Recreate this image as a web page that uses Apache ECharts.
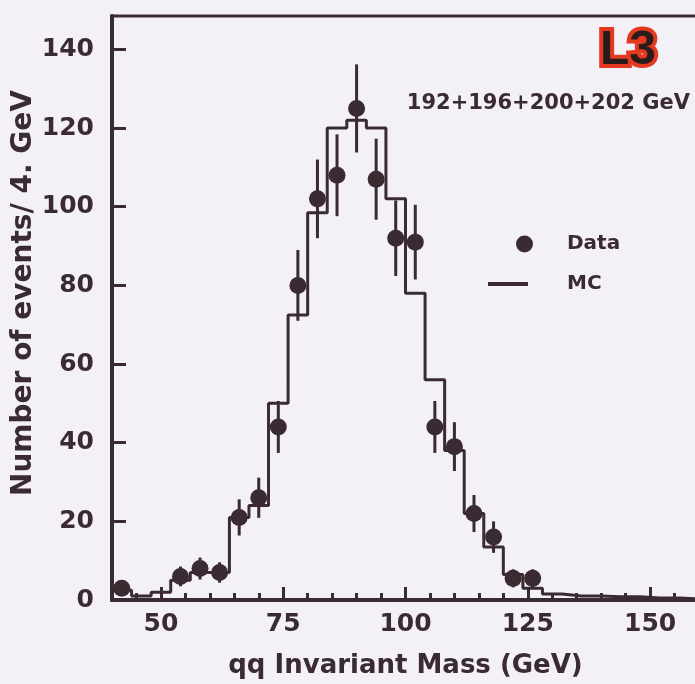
<!DOCTYPE html>
<html>
<head>
<meta charset="utf-8">
<script src="https://cdn.jsdelivr.net/npm/echarts@6/dist/echarts.min.js"></script>
<style>
html,body{margin:0;padding:0;background:#f3f0f8;}
#chart{width:695px;height:684px;}
</style>
</head>
<body>
<div id="chart"></div>
<script>
// Data points (bin centres, GeV), counts and error bars
const dataX = [42, 46, 50, 54, 58, 62, 66, 70, 74, 78, 82, 86, 90, 94, 98, 102, 106, 110, 114, 118, 122, 126];
const dataY = [3, null, null, 6, 8, 7, 21, 26, 44, 80, 102, 108, 125, 107, 92, 91, 44, 39, 22, 16, 5.5, 5.5];
const dataErr = [1.7, null, null, 2.5, 2.8, 2.6, 4.6, 5.1, 6.6, 9, 10, 10.4, 11.2, 10.3, 9.6, 9.5, 6.6, 6.2, 4.7, 4, 2.3, 2.3];

// MC histogram: left bin edges and contents
const mcEdges = [40, 44, 48, 52, 56, 60, 64, 68, 72, 76, 80, 84, 88, 92, 96, 100, 104, 108, 112, 116, 120, 124, 128, 132, 136, 140, 144, 148, 152, 156, 160];
const mcY = [2.5, 1, 2, 5, 7, 7, 21, 24, 50, 72.5, 98.5, 120, 122, 120, 102, 78, 56, 38, 22, 13.5, 6.5, 3, 1.5, 1, 1, 0.8, 0.8, 0.5, 0.5, 0.3];

// Tick labels
const xMajorTicks = [50, 75, 100, 125, 150];
const xMinorTicks = [45, 55, 60, 65, 70, 80, 85, 90, 95, 105, 110, 115, 120, 130, 135, 140, 145, 155];
const yTicks = [0, 20, 40, 60, 80, 100, 120, 140];

const ink = '#3a2a32';
const font = 'DejaVu Sans';

const scatterData = [];
const errData = [];
dataX.forEach((x, i) => {
  if (dataY[i] !== null) {
    scatterData.push([x, dataY[i]]);
    errData.push([x, dataY[i], dataErr[i]]);
  }
});
const mcData = mcEdges.map((e, i) => [e, mcY[Math.min(i, mcY.length - 1)]]);

const chart = echarts.init(document.getElementById('chart'));
chart.setOption({
  backgroundColor: '#f3f0f8',
  animation: false,
  title: [
    {
      text: 'L3', right: 26, top: 22,
      textStyle: { fontFamily: 'Liberation Sans', fontWeight: 'bold', fontSize: 48, color: '#2a1c1c',
        textBorderColor: '#e2391f', textBorderWidth: 8 }
    },
    {
      text: '192+196+200+202 GeV', right: 0, top: 88,
      textStyle: { fontFamily: font, fontWeight: 'bold', fontSize: 21, color: ink }
    }
  ],
  legend: [
    {
      data: [{ name: 'Data', icon: 'circle' }], left: 516, top: 234, padding: 0, orient: 'vertical',
      itemWidth: 17, itemHeight: 17,
      textStyle: { fontFamily: font, fontWeight: 'bold', fontSize: 20, color: ink, padding: [0, 0, 0, 29] }
    },
    {
      data: [{ name: 'MC', icon: 'rect' }], left: 488, top: 274, padding: 0, orient: 'vertical',
      itemWidth: 40, itemHeight: 4,
      textStyle: { fontFamily: font, fontWeight: 'bold', fontSize: 20, color: ink, padding: [0, 0, 0, 34] }
    }
  ],
  grid: {
    left: 112, top: 16, width: 587, height: 584,
    outerBoundsMode: 'none', containLabel: false,
    show: true, borderColor: ink, borderWidth: 3, backgroundColor: 'transparent'
  },
  xAxis: [
    {
      type: 'value', min: 40, max: 160, position: 'bottom',
      axisLine: { lineStyle: { color: ink, width: 4 } },
      axisTick: { inside: true, length: 7, lineStyle: { color: ink, width: 3 }, customValues: xMinorTicks },
      axisLabel: { customValues: xMajorTicks, margin: 12, fontFamily: font, fontWeight: 'bold', fontSize: 25, color: ink },
      splitLine: { show: false },
      name: 'qq Invariant Mass (GeV)', nameLocation: 'middle', nameGap: 53, nameMoveOverlap: false,
      nameTextStyle: { fontFamily: font, fontWeight: 'bold', fontSize: 26, color: ink }
    },
    {
      type: 'value', min: 40, max: 160, position: 'bottom', gridIndex: 0,
      axisLine: { show: false },
      axisTick: { inside: true, length: 13, lineStyle: { color: ink, width: 3 }, customValues: xMajorTicks },
      axisLabel: { show: false },
      splitLine: { show: false }
    }
  ],
  yAxis: {
    type: 'value', min: 0, max: 148.5,
    axisLine: { show: true, lineStyle: { color: ink, width: 4 } },
    axisTick: { show: true, inside: true, length: 14, lineStyle: { color: ink, width: 3 }, customValues: yTicks },
    axisLabel: { customValues: yTicks, margin: 18, fontFamily: font, fontWeight: 'bold', fontSize: 25, color: ink },
    splitLine: { show: false },
    name: 'Number of events/ 4. GeV', nameLocation: 'middle', nameGap: 74, nameMoveOverlap: false,
    nameTextStyle: { fontFamily: font, fontWeight: 'bold', fontSize: 28, color: ink, padding: [0, 0, 0, 30] }
  },
  series: [
    {
      name: 'MC', type: 'line', step: 'end', data: mcData, showSymbol: false, symbol: 'none',
      lineStyle: { color: ink, width: 3 }, itemStyle: { color: ink }, z: 2
    },
    {
      type: 'custom', data: errData, z: 3,
      renderItem: function (params, api) {
        const x = api.value(0), y = api.value(1), e = api.value(2);
        const p1 = api.coord([x, y - e]);
        const p2 = api.coord([x, y + e]);
        return { type: 'line', shape: { x1: p1[0], y1: p1[1], x2: p2[0], y2: p2[1] },
          style: { stroke: ink, lineWidth: 3 } };
      }
    },
    {
      name: 'Data', type: 'scatter', data: scatterData, symbol: 'circle', symbolSize: 17,
      itemStyle: { color: ink, opacity: 1 }, z: 4
    }
  ]
});
</script>
</body>
</html>
